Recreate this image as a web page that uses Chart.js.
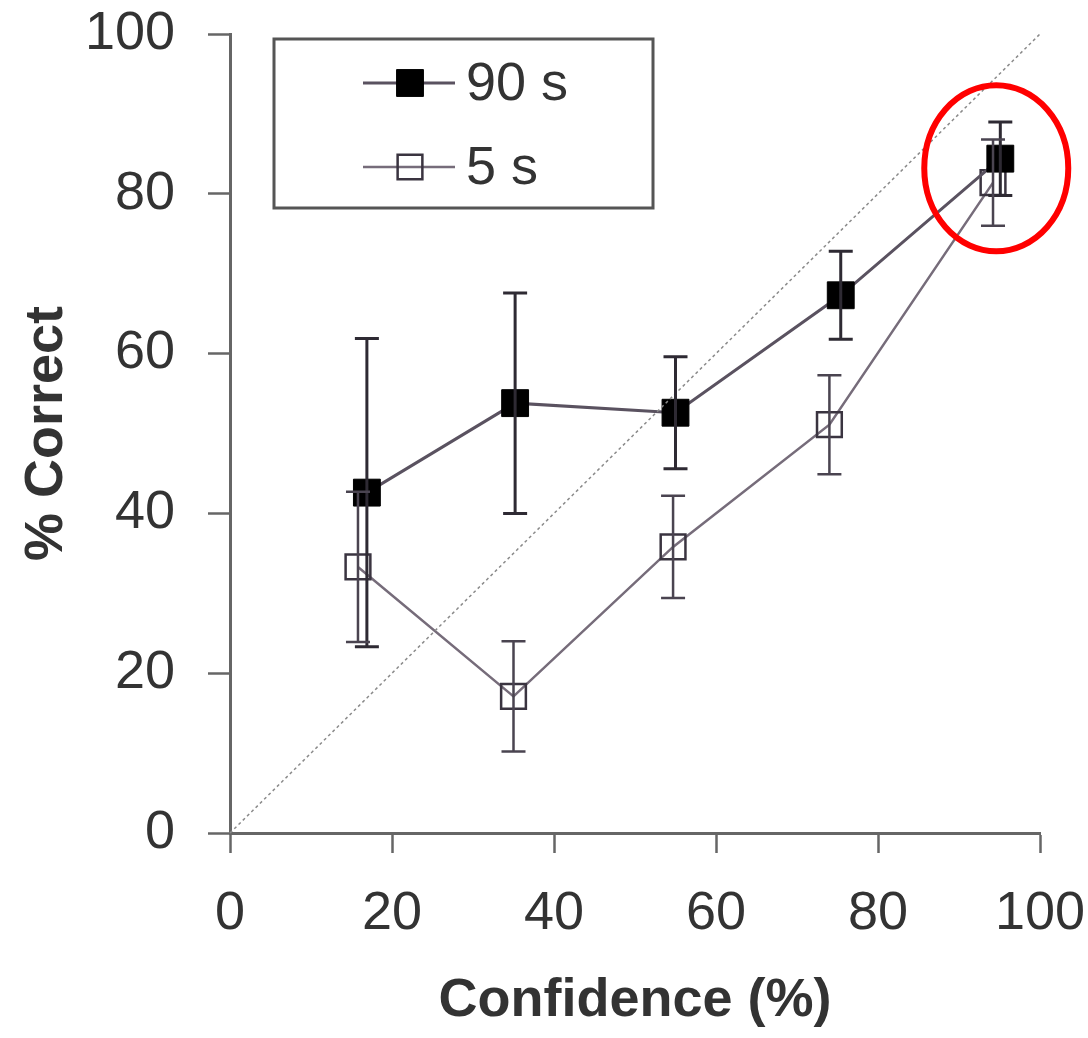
<!DOCTYPE html>
<html>
<head>
<meta charset="utf-8">
<script src="https://cdn.jsdelivr.net/npm/chart.js@4/dist/chart.umd.min.js"></script>
<style>
  html, body { margin: 0; padding: 0; background: #fff; }
  #wrap { width: 1088px; height: 1038px; }
</style>
</head>
<body>
<div id="wrap"><canvas id="chart" width="1088" height="1038"></canvas></div>
<script>
// values
const confidence90 = [16.9, 35.2, 55.0, 75.4, 95.1];
const correct90    = [42.6, 53.8, 52.6, 67.3, 84.4];
const err90        = [19.3, 13.8, 7.0, 5.5, 4.6];

const confidence5 = [15.8, 35.0, 54.7, 74.0, 94.2];
const correct5    = [33.3, 17.1, 35.8, 51.1, 81.4];
const err5        = [9.4, 6.9, 6.4, 6.2, 5.4];

const diagonal = [0, 100];
const seriesLabels = ['90 s', '5 s'];
const axisMin = 0, axisMax = 100, axisStep = 20;

// circled point (data units for centre, pixels for radii)
const highlight = { x: 94.6, y: 83.2, rx: 72, ry: 83 };

const toPoints = (xs, ys) => xs.map((v, i) => ({x: v, y: ys[i]}));

const FONT = '"Liberation Sans", Arial, sans-serif';
const TEXT = '#333';
const AXIS = '#666';

const noScalePadding = s => {
  s.paddingTop = 0; s.paddingBottom = 0; s.paddingLeft = 0; s.paddingRight = 0;
};

const errorBars = {
  id: 'errorBars',
  afterDatasetsDraw(chart) {
    const {ctx, scales: {x, y}} = chart;
    chart.data.datasets.forEach(ds => {
      if (!ds.errors) return;
      ctx.save();
      ctx.strokeStyle = ds.errColor;
      ctx.lineWidth = ds.errWidth;
      ds.data.forEach((p, j) => {
        const px = x.getPixelForValue(p.x);
        const top = y.getPixelForValue(p.y + ds.errors[j]);
        const bot = y.getPixelForValue(p.y - ds.errors[j]);
        ctx.beginPath();
        ctx.moveTo(px, top); ctx.lineTo(px, bot);
        ctx.moveTo(px - 12, top); ctx.lineTo(px + 12, top);
        ctx.moveTo(px - 12, bot); ctx.lineTo(px + 12, bot);
        ctx.stroke();
      });
      ctx.restore();
    });
  }
};

const boxLegend = {
  id: 'boxLegend',
  afterDraw(chart) {
    const ctx = chart.ctx;
    ctx.save();
    ctx.strokeStyle = '#555';
    ctx.lineWidth = 3;
    ctx.strokeRect(274, 39, 379, 169);

    const rows = [83, 167];
    [1, 2].forEach((di, k) => {
      const ds = chart.data.datasets[di];
      const yy = rows[k];
      ctx.strokeStyle = ds.borderColor;
      ctx.lineWidth = ds.borderWidth;
      ctx.beginPath();
      ctx.moveTo(363, yy); ctx.lineTo(455, yy);
      ctx.stroke();
      const s = ds.pointRadius * Math.SQRT1_2;
      ctx.fillStyle = ds.pointBackgroundColor;
      ctx.strokeStyle = ds.pointBorderColor;
      ctx.lineWidth = ds.pointBorderWidth;
      ctx.beginPath();
      ctx.rect(410 - s, yy - s, 2 * s, 2 * s);
      ctx.fill();
      ctx.stroke();
      ctx.fillStyle = TEXT;
      ctx.font = `54px ${FONT}`;
      ctx.textBaseline = 'middle';
      ctx.textAlign = 'left';
      ctx.fillText(ds.label, 466, yy + 2);
    });
    ctx.restore();
  }
};

const circleMark = {
  id: 'circleMark',
  afterDraw(chart) {
    const {ctx, scales: {x, y}} = chart;
    ctx.save();
    ctx.strokeStyle = '#ff0000';
    ctx.lineWidth = 6;
    ctx.beginPath();
    ctx.ellipse(x.getPixelForValue(highlight.x), y.getPixelForValue(highlight.y),
      highlight.rx, highlight.ry, 0, 0, Math.PI * 2);
    ctx.stroke();
    ctx.restore();
  }
};

document.addEventListener('DOMContentLoaded', () => {
  const data = {
    datasets: [
      {
        label: 'diagonal',
        data: toPoints(diagonal, diagonal),
        showLine: true,
        borderColor: '#8a8a8a',
        borderWidth: 1.5,
        borderDash: [3, 3],
        pointRadius: 0,
        clip: false
      },
      {
        label: seriesLabels[0],
        data: toPoints(confidence90, correct90),
        errors: err90,
        errColor: '#2e2a33',
        errWidth: 3,
        showLine: true,
        borderColor: '#5a5260',
        borderWidth: 3,
        pointStyle: 'rect',
        pointRadius: 19,
        pointBackgroundColor: '#000',
        pointBorderColor: '#000',
        pointBorderWidth: 1
      },
      {
        label: seriesLabels[1],
        data: toPoints(confidence5, correct5),
        errors: err5,
        errColor: '#4a4450',
        errWidth: 2.5,
        showLine: true,
        borderColor: '#766c7a',
        borderWidth: 2.5,
        pointStyle: 'rect',
        pointRadius: 17.5,
        pointBackgroundColor: 'rgba(255,255,255,0)',
        pointBorderColor: '#3a3440',
        pointBorderWidth: 2.5
      }
    ]
  };

  new Chart(document.getElementById('chart'), {
    type: 'scatter',
    data,
    plugins: [errorBars, boxLegend, circleMark],
    options: {
      responsive: false,
      animation: false,
      layout: { padding: { top: 34, right: 48, left: 0, bottom: 0 } },
      plugins: { legend: { display: false }, tooltip: { enabled: false } },
      scales: {
        x: {
          type: 'linear', min: axisMin, max: axisMax,
          afterFit: s => { s.height = 205; noScalePadding(s); },
          ticks: { stepSize: axisStep, color: TEXT, padding: 29, font: { family: FONT, size: 54 } },
          grid: { drawOnChartArea: false, tickLength: 20, tickWidth: 2.5, tickColor: AXIS },
          border: { display: true, color: AXIS, width: 3 },
          title: {
            display: true, text: 'Confidence (%)', color: TEXT,
            font: { family: FONT, size: 54, weight: 'bold', lineHeight: 1 },
            padding: { top: 0, bottom: 10 }
          }
        },
        y: {
          type: 'linear', min: axisMin, max: axisMax,
          afterFit: s => { s.width = 230; noScalePadding(s); },
          ticks: { stepSize: axisStep, color: TEXT, padding: 33, font: { family: FONT, size: 54 } },
          grid: { drawOnChartArea: false, tickLength: 22, tickWidth: 2.5, tickColor: AXIS },
          border: { display: true, color: AXIS, width: 3 },
          title: {
            display: true, text: '% Correct', color: TEXT,
            font: { family: FONT, size: 54, weight: 'bold', lineHeight: 1 },
            padding: { top: 20, bottom: 0 }
          }
        }
      }
    }
  });
});
</script>
</body>
</html>
